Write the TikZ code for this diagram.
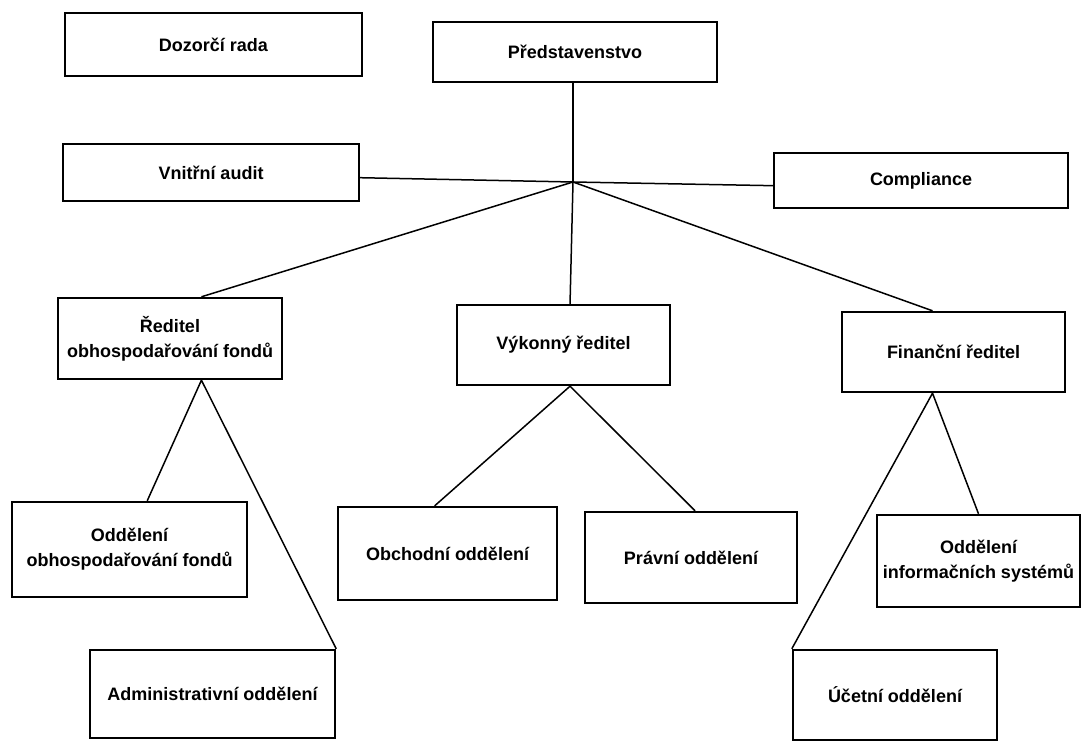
\documentclass[tikz,border=0pt]{standalone}
\usepackage{fontspec}
\setmainfont{Liberation Sans}
\begin{document}
\begin{tikzpicture}[x=1pt,y=-1pt,
  box/.style={draw, line width=2.4pt, rectangle, inner sep=0pt, align=center,
    font=\fontsize{18}{25}\selectfont\bfseries},
  link/.style={line width=1.5pt}]
\useasboundingbox[fill=white] (0,0) rectangle (1081,743);
% top row
\node[box, minimum width=297pt, minimum height=63pt] (dr) at (213.5,44.5) {Dozorčí rada};
\node[box, minimum width=284pt, minimum height=60pt] (pr0) at (575,52) {Představenstvo};
\node[box, minimum width=296pt, minimum height=57pt] (va) at (211,172.5) {Vnitřní audit};
\node[box, minimum width=294pt, minimum height=55pt] (co) at (921,180.5) {Compliance};
% directors
\node[box, minimum width=224pt, minimum height=81pt] (rof) at (170,338.5) {Ředitel\\obhospodařování fondů};
\node[box, minimum width=213pt, minimum height=80pt] (vr) at (563.5,345) {Výkonný ředitel};
\node[box, minimum width=223pt, minimum height=80pt] (fr) at (953.5,352) {Finanční ředitel};
% departments
\node[box, minimum width=235pt, minimum height=95pt] (oof) at (129.5,549.5) {Oddělení\\obhospodařování fondů};
\node[box, minimum width=245pt, minimum height=88pt] (ad) at (212.5,694) {Administrativní oddělení};
\node[box, minimum width=219pt, minimum height=93pt] (ob) at (447.5,553.5) {Obchodní oddělení};
\node[box, minimum width=212pt, minimum height=91pt] (po) at (691,557.5) {Právní oddělení};
\node[box, minimum width=203pt, minimum height=92pt] (ois) at (978.5,561) {Oddělení\\informačních systémů};
\node[box, minimum width=204pt, minimum height=90pt] (uo) at (895,695) {Účetní oddělení};
% hub
\coordinate (hub) at (573,182);
\draw[link] (pr0.south -| hub) -- (hub);
\draw[link] (va.-2) -- (hub) -- (co.182);
\draw[link] (hub) -- (rof.53.5);
\draw[link] (hub) -- (vr.81);
\draw[link] (hub) -- (fr.117);
\draw[link] (oof.70) -- (rof.-53.5) -- (ad.north east);
\draw[link] (ob.105) -- (vr.-81) -- (po.85);
\draw[link] (uo.north west) -- (fr.-117) -- (ois.north);
\end{tikzpicture}
\end{document}
